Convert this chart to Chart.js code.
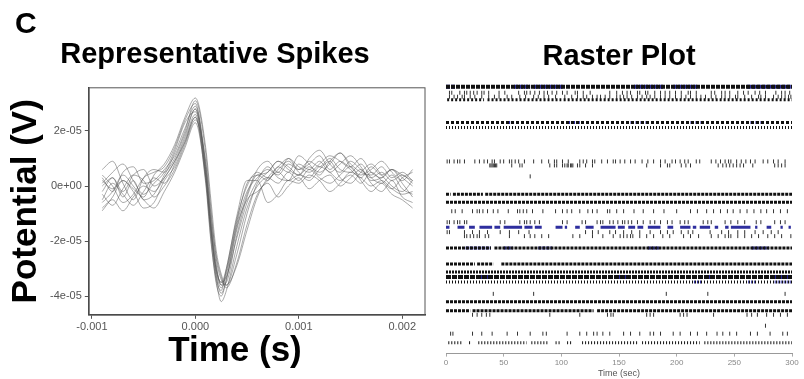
<!DOCTYPE html>
<html lang="en">
<head>
    <meta charset="UTF-8">
    <title>Representative Spikes / Raster Plot</title>
    <script src="https://cdn.jsdelivr.net/npm/chart.js"></script>
    <style>
        body {
            margin: 0;
            background: #fff;
            width: 804px;
            height: 379px;
            position: relative;
            overflow: hidden;
            font-family: "Liberation Sans", Arial, sans-serif;
        }
        canvas {
            position: absolute;
            top: 0;
        }
        .panel-letter {
            position: absolute;
            left: 15px;
            top: 8px;
            font-size: 30px;
            font-weight: bold;
            line-height: 1;
        }
        .xlab {
            position: absolute;
            left: 135px;
            width: 200px;
            top: 331px;
            text-align: center;
            font-size: 35px;
            font-weight: bold;
            line-height: 1;
        }
    </style>
</head>
<body>
    <canvas id="spikes" width="468" height="379" style="left:0"></canvas>
    <canvas id="raster" width="369" height="379" style="left:435px"></canvas>
    <div class="panel-letter">C</div>
    <div class="xlab">Time (s)</div>

    <script>
        // ---- Representative spikes (values in units of 1e-05 V) ----
        const spikeTimes = [-0.0009, -0.0008, -0.0007, -0.0006, -0.0005, -0.0004, -0.0003, -0.0002, -0.0001, 0,
            0.0001, 0.00015, 0.0002, 0.00025, 0.0003, 0.0004, 0.0005, 0.0006, 0.0007, 0.0008, 0.0009,
            0.001, 0.0011, 0.0012, 0.0013, 0.0014, 0.0015, 0.0016, 0.0017, 0.0018, 0.0019, 0.002, 0.0021];
        const spikeTraces = [
            [-0.2, 0.3, -0.4, 0.2, -0.5, -0.3, 0.4, 1.0, 1.9, 2.8, 0.4, -1.6, -3.1, -3.7, -3.2, -1.4, -0.2, 0.3, 0.6, 0.4, 0.8, 0.6, 0.9, 0.7, 1.0, 0.6, 0.5, 0.8, 0.3, 0.1, 0.4, -0.1, -0.3],
            [0.6, 0.9, 0.1, -0.5, 0.3, 0.6, 0.5, 1.2, 2.1, 2.9, 0.8, -1.2, -2.8, -3.6, -3.5, -1.8, -0.4, 0.4, 0.2, 0.7, 0.5, 1.1, 0.8, 0.4, 0.9, 1.2, 0.7, 0.4, 0.6, 0.9, 0.5, 0.2, 0.6],
            [-0.9, -0.4, 0.2, -0.2, -0.8, -0.6, 0.2, 0.7, 1.6, 2.5, 0.1, -2.0, -3.4, -4.2, -3.8, -2.2, -0.8, 0.0, 0.3, 0.1, 0.5, 0.2, 0.6, 0.3, 0.1, 0.4, 0.7, 0.2, -0.2, 0.1, -0.3, -0.5, -0.8],
            [0.3, -0.2, 0.5, 0.7, 0.1, 0.2, 0.6, 1.1, 2.0, 3.1, 1.2, -0.8, -2.6, -3.4, -3.6, -2.5, -1.0, 0.1, 0.5, 0.9, 0.6, 0.4, 1.0, 1.3, 0.8, 0.5, 0.9, 0.6, 0.3, 0.5, 0.2, 0.4, 0.1],
            [-0.5, 0.1, -0.3, -0.7, -0.2, 0.3, 0.1, 0.8, 1.7, 2.6, 0.3, -1.7, -3.3, -3.8, -3.0, -1.2, 0.0, 0.5, 0.3, 0.6, 0.9, 0.5, 0.2, 0.6, 0.9, 0.3, 0.1, 0.5, 0.8, 0.4, 0.0, -0.2, 0.2],
            [0.1, 0.5, 0.8, 0.2, -0.3, 0.1, 0.5, 1.3, 2.3, 2.7, 0.6, -1.4, -3.0, -3.5, -3.3, -1.9, -0.6, 0.2, 0.7, 0.3, 0.2, 0.8, 0.6, 0.9, 0.5, 0.8, 1.1, 0.7, 0.2, 0.3, 0.6, 0.1, -0.4],
            [-0.3, -0.7, -0.1, 0.4, 0.2, -0.4, 0.0, 0.6, 1.5, 2.4, 0.9, -1.0, -2.5, -3.3, -3.7, -2.8, -1.4, -0.3, 0.2, 0.5, 0.2, 0.4, 0.3, 0.7, 0.5, 0.2, 0.4, 0.1, 0.5, 0.2, -0.1, 0.3, 0.5],
            [0.4, 0.0, -0.6, -0.3, 0.3, 0.5, 0.7, 1.4, 2.4, 3.0, 0.5, -1.5, -3.2, -3.9, -3.4, -1.6, -0.3, 0.6, 0.9, 0.5, 1.0, 0.7, 0.5, 0.8, 1.1, 0.9, 0.6, 0.3, 0.7, 0.4, 0.6, 0.3, 0.0],
            [-0.6, -0.2, 0.4, 0.0, -0.5, -0.8, -0.2, 0.5, 1.4, 2.3, 0.2, -1.9, -3.5, -4.0, -3.4, -1.5, -0.5, -0.2, 0.1, -0.4, 0.0, 0.3, -0.1, 0.2, 0.4, 0.0, 0.3, 0.6, 0.1, -0.2, 0.2, -0.4, -0.6],
            [0.0, 0.3, -0.2, 0.4, 0.6, 0.0, 0.3, 0.9, 1.8, 2.8, 0.7, -1.3, -2.9, -3.6, -3.1, -1.3, 0.1, 0.4, 0.5, 0.9, 0.7, 0.4, 0.7, 0.5, 0.8, 1.2, 0.8, 0.5, 0.4, 0.7, 0.3, 0.5, 0.2],
            [-0.8, -0.5, -0.9, -0.4, 0.0, -0.2, 0.3, 0.9, 1.6, 2.5, 0.4, -1.6, -3.0, -3.5, -3.0, -1.1, 0.2, 0.2, -0.6, -0.3, 0.2, 0.1, 0.4, 0.2, -0.2, 0.1, 0.5, 0.3, 0.0, 0.2, -0.1, -0.3, -0.2],
            [0.2, -0.1, 0.2, -0.1, -0.4, 0.4, 0.8, 1.5, 2.5, 3.2, 1.4, -0.5, -2.3, -3.2, -3.6, -2.9, -1.6, -0.4, 0.3, 0.7, 1.0, 0.6, 0.8, 1.1, 0.6, 0.9, 0.7, 1.0, 0.5, 0.3, 0.6, 0.4, 0.2]
        ];
        const timeTicks = [-0.001, 0, 0.001, 0.002];
        const timeTickLabels = ['-0.001', '0.000', '0.001', '0.002'];
        const potentialTicks = [-4, -2, 0, 2];
        const potentialTickLabels = ['-4e-05', '-2e-05', '0e+00', '2e-05'];

        // ---- Raster plot: spike times in seconds, rows by channel position ----
        const bandLevels = [7, 20, 43, 48, 115, 123, 148, 169, 185, 193, 198, 203, 223, 232, 264];
        const bandSpans = [
            [[0, 300]],
            [[1, 33], [36, 100], [102, 300]],
            [[0, 300]],
            [[0, 300]],
            [[0, 4], [6, 32], [34, 300]],
            [[0, 300]],
            [],
            [[0, 39], [42, 300]],
            [[0, 25], [27, 41], [48, 300]],
            [[0, 300]],
            [[0, 300]],
            [[0, 300]],
            [[0, 300]],
            [[0, 21], [23, 128], [131, 300]],
            [[2, 14], [20, 22], [28, 70], [74, 88], [95, 100], [105, 110], [118, 166], [170, 220], [224, 300]]
        ];
        const bandBlue = [
            [[0, 8], [59, 73], [76, 102], [163, 189], [197, 218], [261, 299]],
            [],
            [[0, 27], [53, 59], [105, 116], [160, 174], [212, 223], [264, 275]],
            [],
            [],
            [],
            [[0, 3], [10, 16], [20, 25], [29, 40], [42, 47], [50, 66], [68, 75], [77, 83], [95, 101],
             [103, 105], [112, 116], [121, 128], [134, 147], [149, 155], [158, 164], [166, 171], [175, 186], [192, 197],
             [203, 212], [214, 217], [220, 229], [233, 236], [242, 245], [247, 264], [268, 270], [278, 282], [290, 292], [297, 299]],
            [[17, 39], [50, 58], [80, 92], [175, 185], [265, 280]],
            [],
            [],
            [[30, 40], [150, 158], [225, 232], [285, 300]],
            [[215, 222], [262, 268], [285, 300]],
            [],
            [],
            []
        ];
        const tickLevels = [13, 17, 82, 86, 97, 132, 143, 153, 157, 215, 236, 247, 255];
        const tickTimes = [
            [3, 5, 12, 16, 18, 21, 24, 27, 31, 33, 37, 46, 51, 63, 68, 70, 73, 77, 81, 85, 88, 92, 96,
             101, 105, 112, 114, 119, 125, 142, 148, 153, 157, 160, 166, 168, 173, 175, 181, 186, 190, 194, 199,
             204, 210, 212, 217, 230, 233, 239, 242, 246, 253, 258, 262, 268, 272, 277, 286, 291, 294, 298],
            [3, 7, 10, 14, 16, 21, 25, 31, 37, 42, 46, 53, 57, 64, 69, 76, 80, 85, 89, 95,
             103, 109, 114, 119, 122, 127, 131, 134, 138, 142, 148, 151, 154, 157, 161, 166, 170, 174, 177, 181, 186, 190, 194, 199,
             204, 208, 212, 217, 221, 225, 230, 234, 239, 242, 246, 251, 253, 259, 265, 271, 273, 277, 284, 288, 291, 294, 297, 299],
            [1, 3, 7, 10, 12, 16, 25, 29, 33, 36, 40, 42, 47, 50, 55, 57, 60, 63, 68, 76, 83, 89, 94, 96,
             101, 106, 116, 119, 122, 127, 129, 135, 140, 145, 147, 151, 155, 160, 164, 170, 175, 180, 186, 190, 196, 199,
             203, 207, 210, 217, 220, 230, 234, 238, 242, 245, 247, 252, 256, 260, 264, 268, 275, 279, 284, 288, 294],
            [38, 39, 40, 41, 42, 43, 44, 57, 64, 66, 90, 94, 96,
             101, 103, 105, 106, 108, 109, 110, 114, 116, 121, 127, 174, 186, 192, 194,
             204, 208, 212, 236, 240, 243, 246, 249, 252, 255, 258, 266, 285, 288, 291, 294],
            [73],
            [5, 8, 14, 23, 27, 29, 32, 36, 41, 45, 54, 62, 64, 67, 70, 75, 84, 95, 101, 105, 109, 116, 123, 127, 131, 140,
             142, 148, 154, 163, 171, 180, 189, 200, 212, 218, 226, 232, 238, 244, 249, 255, 261, 267, 273, 278, 284, 290, 296],
            [1, 3, 7, 10, 12, 16, 18, 47, 51, 64, 68, 70, 73, 77, 81,
             101, 105, 118, 121, 131, 134, 136, 142, 145, 149, 153, 155, 158, 161, 166, 171, 177, 181, 186, 192, 196,
             203, 207, 210, 223, 227, 230, 242, 247, 253, 259, 269, 273, 285, 290, 294],
            [1, 3, 16, 23, 29, 36, 47, 55, 63, 72, 121, 127, 132, 142, 147, 154, 161, 168, 177, 186, 192, 197,
             204, 210, 214, 229, 239, 245, 253, 259, 268, 275, 282, 288],
            [16, 18, 21, 24, 27, 29, 34, 37, 55, 68, 73, 77, 83, 89, 110, 116, 127, 136, 145, 151, 154, 157, 160, 162,
             168, 174, 180, 188, 194, 206, 212, 219, 230, 236, 242, 245, 247, 253, 259, 265, 271, 279, 285, 291, 299],
            [41, 76, 191, 227, 294],
            [23, 27, 31, 35, 38, 90, 116, 140, 143, 145, 174, 177, 180, 203, 206, 209, 232, 261, 265, 270, 278, 284, 290, 296],
            [277],
            [4, 6, 23, 31, 40, 53, 62, 73, 84, 87, 105, 116, 122, 128, 131, 136, 142, 154, 160, 168, 177, 180, 186,
             197, 203, 212, 218, 226, 235, 240, 246, 252, 264, 270, 281, 292, 296]
        ];
        const rasterTicks = [0, 50, 100, 150, 200, 250, 300];

        // styles for the dense rows (same order as bandLevels)
        const bandDash = [[4, 1], [2, 2], [3, 2], [1, 2], [3, 1], [3, 1], [], [3, 1], [3, 1], [2, 1], [5, 1], [1, 2], [3, 1], [3, 1], [1, 2]];
        const bandWidth = [4, 3, 3, 3, 3, 3, 3, 3, 3, 3, 4, 3, 3, 3, 3];

        const fontFamily = '"Liberation Sans", Arial, sans-serif';
        Chart.defaults.font.family = fontFamily;

        // full box around the spike panel
        const panelBox = {
            id: 'panelBox',
            afterDraw(chart) {
                const a = chart.chartArea, ctx = chart.ctx;
                ctx.save();
                ctx.strokeStyle = '#555';
                ctx.lineWidth = 1;
                ctx.strokeRect(a.left, a.top, a.right - a.left, a.bottom - a.top);
                ctx.restore();
            }
        };

        new Chart(document.getElementById('spikes'), {
            type: 'line',
            data: {
                datasets: spikeTraces.map(tr => ({
                    data: tr.map((v, i) => ({ x: spikeTimes[i], y: v })),
                    borderColor: 'rgba(85,85,85,0.5)',
                    borderWidth: 1,
                    pointRadius: 0,
                    cubicInterpolationMode: 'monotone'
                }))
            },
            options: {
                responsive: false,
                animation: false,
                devicePixelRatio: 1,
                layout: { padding: { left: 5, right: 43, top: 0, bottom: 43 } },
                plugins: {
                    legend: { display: false },
                    tooltip: { enabled: false },
                    title: {
                        display: true,
                        text: 'Representative Spikes',
                        color: '#000',
                        font: { size: 29, weight: 'bold' },
                        padding: { top: 38, bottom: 15 }
                    }
                },
                scales: {
                    x: {
                        type: 'linear',
                        min: -0.00103,
                        max: 0.00222,
                        afterBuildTicks: s => { s.ticks = timeTicks.map(v => ({ value: v })); },
                        ticks: {
                            callback: (v, i) => timeTickLabels[i],
                            color: '#555',
                            font: { size: 11 },
                            padding: 2,
                            maxRotation: 0
                        },
                        grid: { drawOnChartArea: false, tickLength: 4, color: '#555' },
                        border: { color: '#333', width: 1.5 }
                    },
                    y: {
                        min: -4.68,
                        max: 3.57,
                        afterBuildTicks: s => { s.ticks = potentialTicks.map(v => ({ value: v })); },
                        ticks: {
                            callback: (v, i) => potentialTickLabels[i],
                            color: '#555',
                            font: { size: 11 },
                            padding: 3
                        },
                        grid: { drawOnChartArea: false, tickLength: 4, color: '#555' },
                        border: { color: '#333', width: 1.5 },
                        title: {
                            display: true,
                            text: 'Potential (V)',
                            color: '#000',
                            font: { size: 35, weight: 'bold' },
                            padding: 0
                        }
                    }
                }
            },
            plugins: [panelBox]
        });

        // raster datasets
        function spanPoints(spans, level) {
            return spans.flatMap(([a, b]) => [{ x: a, y: level }, { x: b, y: level }, { x: b, y: null }]);
        }
        const rasterSets = [];
        bandLevels.forEach((lvl, r) => {
            if (bandSpans[r].length) {
                rasterSets.push({
                    data: spanPoints(bandSpans[r], lvl),
                    showLine: true, spanGaps: false, pointRadius: 0,
                    borderColor: '#111', borderWidth: bandWidth[r], borderDash: bandDash[r]
                });
            }
            if (bandBlue[r].length) {
                rasterSets.push({
                    data: spanPoints(bandBlue[r], lvl),
                    showLine: true, spanGaps: false, pointRadius: 0,
                    borderColor: '#2e2e9e', borderWidth: bandWidth[r], borderDash: bandDash[r]
                });
            }
        });
        tickLevels.forEach((lvl, r) => {
            rasterSets.push({
                data: tickTimes[r].map(t => ({ x: t, y: lvl })),
                pointStyle: 'line',
                rotation: 90,
                radius: 2,
                borderColor: '#333',
                borderWidth: 1
            });
        });

        new Chart(document.getElementById('raster'), {
            type: 'scatter',
            data: { datasets: rasterSets },
            options: {
                responsive: false,
                animation: false,
                devicePixelRatio: 1,
                layout: { padding: { left: 11, right: 12, top: 0, bottom: 0 } },
                plugins: {
                    legend: { display: false },
                    tooltip: { enabled: false },
                    title: {
                        display: true,
                        text: 'Raster Plot',
                        color: '#000',
                        font: { size: 29, weight: 'bold' },
                        padding: { top: 40, bottom: 5 }
                    }
                },
                scales: {
                    x: {
                        type: 'linear',
                        min: 0,
                        max: 300,
                        afterBuildTicks: s => { s.ticks = rasterTicks.map(v => ({ value: v })); },
                        ticks: { color: '#888', font: { size: 8 }, padding: 1, maxRotation: 0 },
                        grid: { drawOnChartArea: false, tickLength: 3, color: '#aaa' },
                        border: { color: '#999' },
                        title: {
                            display: true,
                            text: 'Time (sec)',
                            color: '#555',
                            font: { size: 9 },
                            padding: 0
                        }
                    },
                    y: { min: 0, max: 275, reverse: true, display: false }
                }
            }
        });
    </script>
</body>
</html>
